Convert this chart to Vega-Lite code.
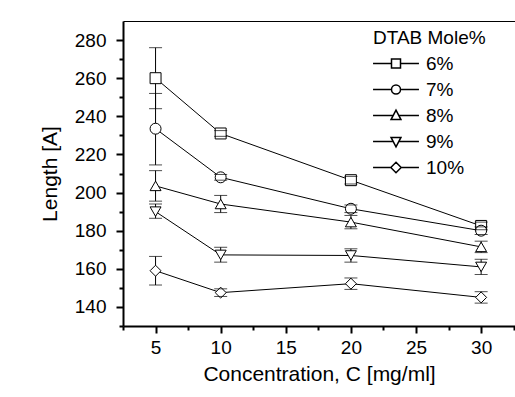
{
  "$schema": "https://vega.github.io/schema/vega-lite/v6.json",
  "autosize": {"type": "none"},
  "padding": {"left": 123, "top": 21, "right": 0, "bottom": 71},
  "width": 392,
  "height": 305,
  "background": "white",
  "config": {
    "font": "Liberation Sans",
    "view": {"stroke": null},
    "axis": {
      "grid": false,
      "domainColor": "black",
      "domainWidth": 2,
      "tickColor": "black",
      "tickWidth": 2,
      "labelColor": "black",
      "labelFontSize": 19,
      "labelFont": "Liberation Sans",
      "titleFont": "Liberation Sans",
      "titleFontSize": 21,
      "titleFontWeight": "normal",
      "titleColor": "black",
      "labelOverlap": false,
      "labelBound": false,
      "labelFlush": false
    }
  },
  "data": {
    "values": [
      {"c": 5, "series": "6%", "len": 260, "lo": 244, "hi": 276},
      {"c": 10, "series": "6%", "len": 231, "lo": 229.5, "hi": 232.5},
      {"c": 20, "series": "6%", "len": 206.5, "lo": 204.5, "hi": 208.5},
      {"c": 30, "series": "6%", "len": 182.5, "lo": 180.5, "hi": 184.5},
      {"c": 5, "series": "7%", "len": 233.5, "lo": 214.5, "hi": 252},
      {"c": 10, "series": "7%", "len": 208, "lo": 206.5, "hi": 209.5},
      {"c": 20, "series": "7%", "len": 191.5, "lo": 189.5, "hi": 193.5},
      {"c": 30, "series": "7%", "len": 180, "lo": 178, "hi": 182},
      {"c": 5, "series": "8%", "len": 203.5, "lo": 195.5, "hi": 211.5},
      {"c": 10, "series": "8%", "len": 194, "lo": 189.5, "hi": 198.5},
      {"c": 20, "series": "8%", "len": 184.5, "lo": 181, "hi": 188},
      {"c": 30, "series": "8%", "len": 171.5, "lo": 168.5, "hi": 174.5},
      {"c": 5, "series": "9%", "len": 190, "lo": 186.5, "hi": 194},
      {"c": 10, "series": "9%", "len": 167.3, "lo": 163.5, "hi": 171.3},
      {"c": 20, "series": "9%", "len": 167, "lo": 163.5, "hi": 170.5},
      {"c": 30, "series": "9%", "len": 161, "lo": 157, "hi": 165},
      {"c": 5, "series": "10%", "len": 159, "lo": 151.5, "hi": 166.5},
      {"c": 10, "series": "10%", "len": 147.5, "lo": 145.5, "hi": 149.5},
      {"c": 20, "series": "10%", "len": 152.2, "lo": 149.2, "hi": 155.2},
      {"c": 30, "series": "10%", "len": 145, "lo": 142, "hi": 148}
    ]
  },
  "resolve": {"axis": {"x": "independent", "y": "independent"}, "scale": {"shape": "independent"}},
  "layer": [
    {
      "mark": {"type": "line", "color": "black", "strokeWidth": 1},
      "encoding": {
        "x": {
          "field": "c", "type": "quantitative",
          "scale": {"domain": [2.5, 32.6], "nice": false, "zero": false},
          "axis": {
            "title": "Concentration, C [mg/ml]",
            "values": [2.5, 5, 7.5, 10, 12.5, 15, 17.5, 20, 22.5, 25, 27.5, 30, 32.5],
            "labelExpr": "datum.value % 5 === 0 ? datum.label : ''",
            "tickSize": {"condition": {"test": "datum.value % 5 === 0", "value": 7}, "value": 4},
            "labelPadding": 5,
            "titlePadding": 6
          }
        },
        "y": {
          "field": "len", "type": "quantitative",
          "scale": {"domain": [130, 290], "nice": false, "zero": false},
          "axis": {
            "title": "Length [A]",
            "values": [130, 140, 150, 160, 170, 180, 190, 200, 210, 220, 230, 240, 250, 260, 270, 280],
            "labelExpr": "datum.value % 20 === 0 ? datum.label : ''",
            "tickSize": {"condition": {"test": "datum.value % 20 === 0", "value": 7}, "value": 4},
            "labelPadding": 10,
            "titlePadding": 14
          }
        },
        "detail": {"field": "series"}
      }
    },
    {
      "mark": {"type": "rule", "color": "black", "strokeWidth": 1},
      "encoding": {
        "x": {
          "field": "c", "type": "quantitative",
          "axis": {"orient": "top", "title": null, "labels": false, "ticks": false, "domainWidth": 1, "domainColor": "black"}
        },
        "y": {"field": "lo", "type": "quantitative", "axis": null},
        "y2": {"field": "hi"}
      }
    },
    {
      "mark": {"type": "point", "filled": true, "fill": "white", "stroke": "black", "strokeWidth": 1, "size": 120, "opacity": 1},
      "encoding": {
        "x": {"field": "c", "type": "quantitative", "axis": null},
        "y": {"field": "len", "type": "quantitative", "axis": null},
        "shape": {
          "field": "series", "type": "nominal",
          "scale": {"domain": ["6%", "7%", "8%", "9%", "10%"], "range": ["square", "circle", "triangle-up", "triangle-down", "diamond"]},
          "legend": null
        }
      }
    },
    {
      "mark": {"type": "tick", "orient": "horizontal", "size": 13, "thickness": 1, "color": "black"},
      "encoding": {
        "x": {"field": "c", "type": "quantitative", "axis": null},
        "y": {"field": "lo", "type": "quantitative", "axis": null}
      }
    },
    {
      "mark": {"type": "tick", "orient": "horizontal", "size": 13, "thickness": 1, "color": "black"},
      "encoding": {
        "x": {"field": "c", "type": "quantitative", "axis": null},
        "y": {"field": "hi", "type": "quantitative", "axis": null}
      }
    },
    {
      "mark": {"type": "point", "filled": true, "fill": "white", "stroke": "black", "strokeWidth": 1, "size": 81, "opacity": 0},
      "encoding": {
        "x": {"field": "c", "type": "quantitative", "axis": null},
        "y": {"field": "len", "type": "quantitative", "axis": null},
        "shape": {
          "field": "series", "type": "nominal",
          "scale": {
            "domain": ["6%", "7%", "8%", "9%", "10%"],
            "range": [
              "M-5.1,0H-1M1,0H5.1M-1,-1H1V1H-1Z",
              "M-5.1,0H-1M1,0H5.1M-1,0A1,1 0 1,0 1,0A1,1 0 1,0 -1,0Z",
              "M-5.1,0H-0.63M0.63,0H5.1M0,-1.2L1.1,0.9L-1.1,0.9Z",
              "M-5.1,0H-0.63M0.63,0H5.1M0,1.2L1.1,-0.9L-1.1,-0.9Z",
              "M-5.1,0H-1.15M1.15,0H5.1M0,-1.15L1.15,0L0,1.15L-1.15,0Z"
            ]
          },
          "legend": {
            "orient": "none",
            "legendX": 250,
            "legendY": 8,
            "title": "DTAB Mole%",
            "titleFont": "Liberation Sans",
            "titleFontSize": 19,
            "titleFontWeight": "normal",
            "titleColor": "black",
            "titlePadding": 6,
            "labelFont": "Liberation Sans",
            "labelFontSize": 19,
            "labelColor": "black",
            "symbolSize": 81,
            "symbolOffset": 13.5,
            "labelOffset": 20.5,
            "rowPadding": 6,
            "encode": {
              "symbols": {
                "update": {
                  "stroke": {"value": "black"},
                  "fill": {"value": "white"},
                  "strokeWidth": {"value": 1},
                  "opacity": {"value": 1}
                }
              }
            }
          }
        }
      }
    }
  ]
}
